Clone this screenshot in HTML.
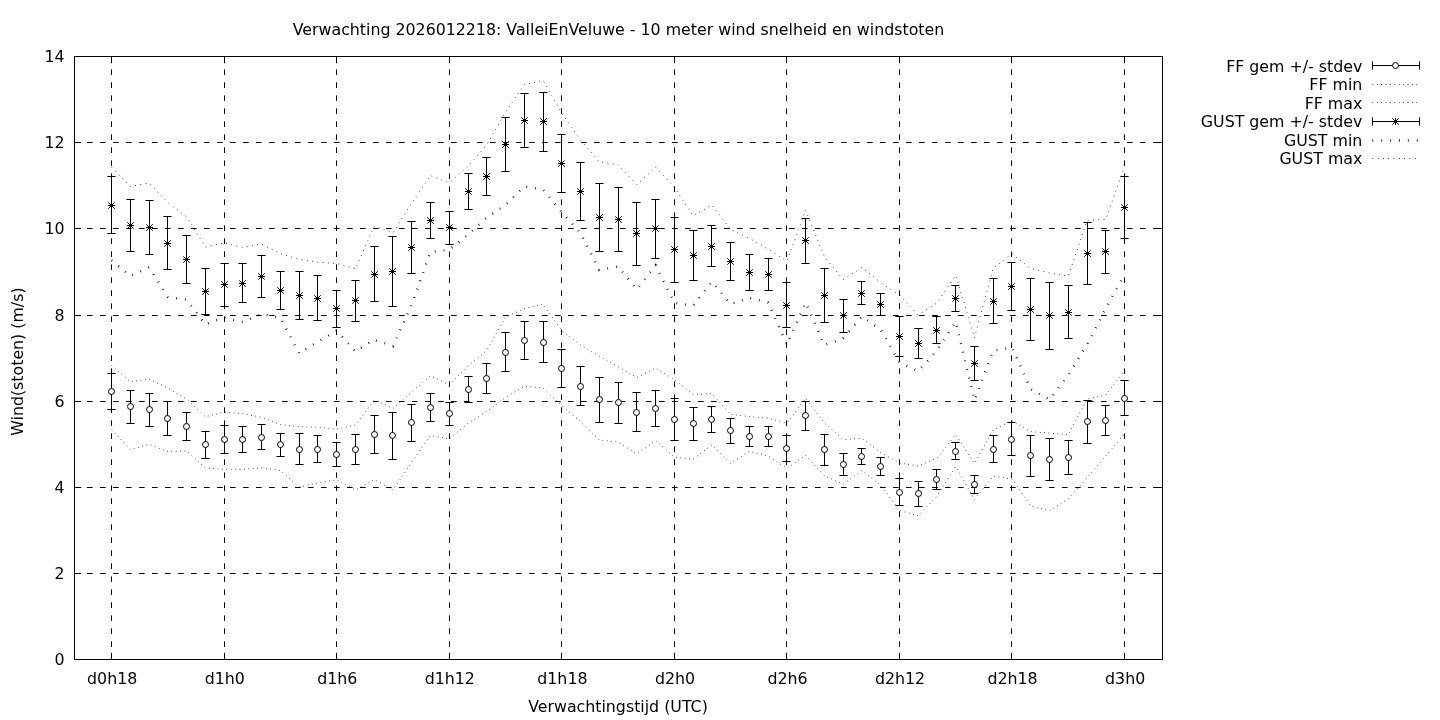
<!DOCTYPE html>
<html lang="nl"><head><meta charset="utf-8"><title>Verwachting 2026012218: ValleiEnVeluwe</title>
<style>
html,body{margin:0;padding:0;background:#fff;}
body{width:1440px;height:720px;overflow:hidden;}
svg{display:block;}
text{font-family:"DejaVu Sans","Liberation Sans",sans-serif;font-size:15.8px;fill:#000;}
.grid line{stroke:#000;stroke-width:1;stroke-dasharray:5.65 7.35;}
.tick line{stroke:#000;stroke-width:1;}
.eb line{stroke:#000;stroke-width:1;}
</style></head><body>
<svg width="1440" height="720" viewBox="0 0 1440 720">
<rect x="0" y="0" width="1440" height="720" fill="#fff"/>

<text x="618.5" y="34.5" text-anchor="middle">Verwachting 2026012218: ValleiEnVeluwe - 10 meter wind snelheid en windstoten</text>
<g class="grid">
<line x1="74.0" y1="573.50" x2="1162.5" y2="573.50"/>
<line x1="74.0" y1="487.50" x2="1162.5" y2="487.50"/>
<line x1="74.0" y1="401.50" x2="1162.5" y2="401.50"/>
<line x1="74.0" y1="315.50" x2="1162.5" y2="315.50"/>
<line x1="74.0" y1="228.50" x2="1162.5" y2="228.50"/>
<line x1="74.0" y1="142.50" x2="1162.5" y2="142.50"/>
<line x1="111.50" y1="660.0" x2="111.50" y2="56.5"/>
<line x1="224.50" y1="660.0" x2="224.50" y2="56.5"/>
<line x1="336.50" y1="660.0" x2="336.50" y2="56.5"/>
<line x1="449.50" y1="660.0" x2="449.50" y2="56.5"/>
<line x1="561.50" y1="660.0" x2="561.50" y2="56.5"/>
<line x1="674.50" y1="660.0" x2="674.50" y2="56.5"/>
<line x1="786.50" y1="660.0" x2="786.50" y2="56.5"/>
<line x1="899.50" y1="660.0" x2="899.50" y2="56.5"/>
<line x1="1011.50" y1="660.0" x2="1011.50" y2="56.5"/>
<line x1="1124.50" y1="660.0" x2="1124.50" y2="56.5"/>
</g>
<g class="tick">
<line x1="74.5" y1="659.50" x2="81.25" y2="659.50"/>
<line x1="1162.5" y1="659.50" x2="1155.75" y2="659.50"/>
<line x1="74.5" y1="573.50" x2="81.25" y2="573.50"/>
<line x1="1162.5" y1="573.50" x2="1155.75" y2="573.50"/>
<line x1="74.5" y1="487.50" x2="81.25" y2="487.50"/>
<line x1="1162.5" y1="487.50" x2="1155.75" y2="487.50"/>
<line x1="74.5" y1="401.50" x2="81.25" y2="401.50"/>
<line x1="1162.5" y1="401.50" x2="1155.75" y2="401.50"/>
<line x1="74.5" y1="315.50" x2="81.25" y2="315.50"/>
<line x1="1162.5" y1="315.50" x2="1155.75" y2="315.50"/>
<line x1="74.5" y1="228.50" x2="81.25" y2="228.50"/>
<line x1="1162.5" y1="228.50" x2="1155.75" y2="228.50"/>
<line x1="74.5" y1="142.50" x2="81.25" y2="142.50"/>
<line x1="1162.5" y1="142.50" x2="1155.75" y2="142.50"/>
<line x1="74.5" y1="56.50" x2="81.25" y2="56.50"/>
<line x1="1162.5" y1="56.50" x2="1155.75" y2="56.50"/>
<line x1="111.50" y1="659.5" x2="111.50" y2="652.75"/>
<line x1="111.50" y1="56.5" x2="111.50" y2="63.25"/>
<line x1="224.50" y1="659.5" x2="224.50" y2="652.75"/>
<line x1="224.50" y1="56.5" x2="224.50" y2="63.25"/>
<line x1="336.50" y1="659.5" x2="336.50" y2="652.75"/>
<line x1="336.50" y1="56.5" x2="336.50" y2="63.25"/>
<line x1="449.50" y1="659.5" x2="449.50" y2="652.75"/>
<line x1="449.50" y1="56.5" x2="449.50" y2="63.25"/>
<line x1="561.50" y1="659.5" x2="561.50" y2="652.75"/>
<line x1="561.50" y1="56.5" x2="561.50" y2="63.25"/>
<line x1="674.50" y1="659.5" x2="674.50" y2="652.75"/>
<line x1="674.50" y1="56.5" x2="674.50" y2="63.25"/>
<line x1="786.50" y1="659.5" x2="786.50" y2="652.75"/>
<line x1="786.50" y1="56.5" x2="786.50" y2="63.25"/>
<line x1="899.50" y1="659.5" x2="899.50" y2="652.75"/>
<line x1="899.50" y1="56.5" x2="899.50" y2="63.25"/>
<line x1="1011.50" y1="659.5" x2="1011.50" y2="652.75"/>
<line x1="1011.50" y1="56.5" x2="1011.50" y2="63.25"/>
<line x1="1124.50" y1="659.5" x2="1124.50" y2="652.75"/>
<line x1="1124.50" y1="56.5" x2="1124.50" y2="63.25"/>
</g>
<text x="64.5" y="665.40" text-anchor="end">0</text>
<text x="64.5" y="579.20" text-anchor="end">2</text>
<text x="64.5" y="493.00" text-anchor="end">4</text>
<text x="64.5" y="406.80" text-anchor="end">6</text>
<text x="64.5" y="320.60" text-anchor="end">8</text>
<text x="64.5" y="234.40" text-anchor="end">10</text>
<text x="64.5" y="148.20" text-anchor="end">12</text>
<text x="64.5" y="62.00" text-anchor="end">14</text>
<text x="112.21" y="683.8" text-anchor="middle">d0h18</text>
<text x="224.75" y="683.8" text-anchor="middle">d1h0</text>
<text x="337.30" y="683.8" text-anchor="middle">d1h6</text>
<text x="449.85" y="683.8" text-anchor="middle">d1h12</text>
<text x="562.40" y="683.8" text-anchor="middle">d1h18</text>
<text x="674.95" y="683.8" text-anchor="middle">d2h0</text>
<text x="787.50" y="683.8" text-anchor="middle">d2h6</text>
<text x="900.04" y="683.8" text-anchor="middle">d2h12</text>
<text x="1012.59" y="683.8" text-anchor="middle">d2h18</text>
<text x="1125.14" y="683.8" text-anchor="middle">d3h0</text>
<text x="618" y="712.2" text-anchor="middle">Verwachtingstijd (UTC)</text>
<text transform="translate(23.2,361.6) rotate(-90)" text-anchor="middle">Wind(stoten) (m/s)</text>
<polyline points="111.61,429.80 130.37,449.60 149.12,444.40 167.88,451.70 186.64,451.00 205.40,467.90 224.16,469.40 242.91,469.40 261.67,467.70 280.43,470.40 299.19,487.10 317.94,482.90 336.70,479.80 355.46,490.00 374.22,479.60 392.98,489.80 411.74,462.30 430.49,435.40 449.25,439.00 468.01,423.30 486.77,411.50 505.52,397.50 524.28,386.20 543.04,387.90 561.80,405.80 580.56,421.50 599.31,440.00 618.07,442.10 636.83,454.00 655.59,440.40 674.35,457.10 693.10,459.20 711.86,445.00 730.62,463.30 749.38,451.25 768.14,456.00 786.89,468.50 805.65,455.40 824.41,475.80 843.17,484.20 861.93,470.60 880.68,485.20 899.44,510.50 918.20,515.80 936.96,496.10 955.72,466.50 974.47,499.50 993.23,476.25 1011.99,479.00 1030.75,506.00 1049.51,510.80 1068.26,498.75 1087.02,477.90 1105.78,456.00 1124.54,433.75" fill="none" stroke="#000" stroke-width="1" stroke-dasharray="0.65 3.75"/>
<polyline points="111.61,365.50 130.37,381.70 149.12,379.20 167.88,388.10 186.64,399.20 205.40,416.70 224.16,412.10 242.91,413.75 261.67,417.30 280.43,424.60 299.19,426.70 317.94,427.10 336.70,429.20 355.46,425.00 374.22,400.00 392.98,408.50 411.74,391.80 430.49,375.80 449.25,384.80 468.01,366.00 486.77,350.40 505.52,317.10 524.28,308.75 543.04,304.20 561.80,330.60 580.56,345.20 599.31,356.25 618.07,366.70 636.83,377.50 655.59,368.10 674.35,379.60 693.10,394.60 711.86,393.60 730.62,414.40 749.38,416.50 768.14,418.30 786.89,423.00 805.65,398.50 824.41,423.00 843.17,439.70 861.93,438.30 880.68,452.50 899.44,462.90 918.20,466.00 936.96,458.10 955.72,434.60 974.47,463.30 993.23,430.00 1011.99,420.60 1030.75,431.70 1049.51,433.10 1068.26,434.60 1087.02,399.00 1105.78,395.00 1124.54,370.30" fill="none" stroke="#000" stroke-width="1" stroke-dasharray="0.65 3.75"/>
<polyline points="111.61,260.30 130.37,276.00 149.12,267.40 167.88,296.90 186.64,299.80 205.40,324.40 224.16,317.70 242.91,322.10 261.67,314.00 280.43,317.70 299.19,353.50 317.94,341.70 336.70,330.80 355.46,351.50 374.22,339.60 392.98,346.25 411.74,304.60 430.49,251.90 449.25,249.80 468.01,234.60 486.77,217.50 505.52,205.00 524.28,186.50 543.04,189.50 561.80,212.30 580.56,233.10 599.31,270.00 618.07,266.50 636.83,289.40 655.59,265.40 674.35,302.90 693.10,305.60 711.86,281.70 730.62,304.20 749.38,297.90 768.14,302.50 786.89,344.60 805.65,302.50 824.41,345.20 843.17,338.30 861.93,316.40 880.68,329.60 899.44,362.30 918.20,371.20 936.96,350.30 955.72,321.70 974.47,400.20 993.23,350.60 1011.99,347.50 1030.75,389.20 1049.51,399.60 1068.26,375.20 1087.02,344.60 1105.78,308.50 1124.54,274.20" fill="none" stroke="#000" stroke-width="2.4" stroke-dasharray="0.75 8.1"/>
<polyline points="111.61,167.30 130.37,186.50 149.12,182.90 167.88,202.70 186.64,216.70 205.40,247.10 224.16,242.90 242.91,247.50 261.67,244.00 280.43,253.75 299.19,259.40 317.94,262.10 336.70,263.50 355.46,268.75 374.22,226.25 392.98,232.90 411.74,203.00 430.49,175.60 449.25,182.90 468.01,166.25 486.77,145.00 505.52,112.10 524.28,84.60 543.04,80.40 561.80,113.10 580.56,140.20 599.31,161.70 618.07,164.80 636.83,184.60 655.59,167.30 674.35,187.10 693.10,216.00 711.86,205.00 730.62,229.60 749.38,238.30 768.14,249.00 786.89,261.25 805.65,210.40 824.41,256.70 843.17,279.60 861.93,267.50 880.68,282.70 899.44,295.00 918.20,315.00 936.96,303.00 955.72,275.30 974.47,337.70 993.23,268.30 1011.99,253.75 1030.75,268.50 1049.51,273.00 1068.26,276.20 1087.02,220.40 1105.78,219.40 1124.54,166.25" fill="none" stroke="#000" stroke-width="1" stroke-dasharray="0.7 4.6"/>
<g class="eb">
<line x1="111.50" y1="373.50" x2="111.50" y2="409.50"/>
<line x1="107.40" y1="373.50" x2="115.60" y2="373.50"/>
<line x1="107.40" y1="409.50" x2="115.60" y2="409.50"/>
<circle cx="111.50" cy="391.50" r="3" fill="#fff" stroke="#000" stroke-width="1"/>
<line x1="130.50" y1="390.50" x2="130.50" y2="423.50"/>
<line x1="126.40" y1="390.50" x2="134.60" y2="390.50"/>
<line x1="126.40" y1="423.50" x2="134.60" y2="423.50"/>
<circle cx="130.50" cy="406.50" r="3" fill="#fff" stroke="#000" stroke-width="1"/>
<line x1="149.50" y1="393.50" x2="149.50" y2="426.50"/>
<line x1="145.40" y1="393.50" x2="153.60" y2="393.50"/>
<line x1="145.40" y1="426.50" x2="153.60" y2="426.50"/>
<circle cx="149.50" cy="409.50" r="3" fill="#fff" stroke="#000" stroke-width="1"/>
<line x1="167.50" y1="401.50" x2="167.50" y2="435.50"/>
<line x1="163.40" y1="401.50" x2="171.60" y2="401.50"/>
<line x1="163.40" y1="435.50" x2="171.60" y2="435.50"/>
<circle cx="167.50" cy="418.50" r="3" fill="#fff" stroke="#000" stroke-width="1"/>
<line x1="186.50" y1="412.50" x2="186.50" y2="440.50"/>
<line x1="182.40" y1="412.50" x2="190.60" y2="412.50"/>
<line x1="182.40" y1="440.50" x2="190.60" y2="440.50"/>
<circle cx="186.50" cy="426.50" r="3" fill="#fff" stroke="#000" stroke-width="1"/>
<line x1="205.50" y1="431.50" x2="205.50" y2="458.50"/>
<line x1="201.40" y1="431.50" x2="209.60" y2="431.50"/>
<line x1="201.40" y1="458.50" x2="209.60" y2="458.50"/>
<circle cx="205.50" cy="444.50" r="3" fill="#fff" stroke="#000" stroke-width="1"/>
<line x1="224.50" y1="425.50" x2="224.50" y2="453.50"/>
<line x1="220.40" y1="425.50" x2="228.60" y2="425.50"/>
<line x1="220.40" y1="453.50" x2="228.60" y2="453.50"/>
<circle cx="224.50" cy="439.50" r="3" fill="#fff" stroke="#000" stroke-width="1"/>
<line x1="242.50" y1="426.50" x2="242.50" y2="452.50"/>
<line x1="238.40" y1="426.50" x2="246.60" y2="426.50"/>
<line x1="238.40" y1="452.50" x2="246.60" y2="452.50"/>
<circle cx="242.50" cy="439.50" r="3" fill="#fff" stroke="#000" stroke-width="1"/>
<line x1="261.50" y1="424.50" x2="261.50" y2="449.50"/>
<line x1="257.40" y1="424.50" x2="265.60" y2="424.50"/>
<line x1="257.40" y1="449.50" x2="265.60" y2="449.50"/>
<circle cx="261.50" cy="437.50" r="3" fill="#fff" stroke="#000" stroke-width="1"/>
<line x1="280.50" y1="433.50" x2="280.50" y2="456.50"/>
<line x1="276.40" y1="433.50" x2="284.60" y2="433.50"/>
<line x1="276.40" y1="456.50" x2="284.60" y2="456.50"/>
<circle cx="280.50" cy="444.50" r="3" fill="#fff" stroke="#000" stroke-width="1"/>
<line x1="299.50" y1="433.50" x2="299.50" y2="464.50"/>
<line x1="295.40" y1="433.50" x2="303.60" y2="433.50"/>
<line x1="295.40" y1="464.50" x2="303.60" y2="464.50"/>
<circle cx="299.50" cy="449.50" r="3" fill="#fff" stroke="#000" stroke-width="1"/>
<line x1="317.50" y1="435.50" x2="317.50" y2="462.50"/>
<line x1="313.40" y1="435.50" x2="321.60" y2="435.50"/>
<line x1="313.40" y1="462.50" x2="321.60" y2="462.50"/>
<circle cx="317.50" cy="449.50" r="3" fill="#fff" stroke="#000" stroke-width="1"/>
<line x1="336.50" y1="442.50" x2="336.50" y2="466.50"/>
<line x1="332.40" y1="442.50" x2="340.60" y2="442.50"/>
<line x1="332.40" y1="466.50" x2="340.60" y2="466.50"/>
<circle cx="336.50" cy="454.50" r="3" fill="#fff" stroke="#000" stroke-width="1"/>
<line x1="355.50" y1="434.50" x2="355.50" y2="464.50"/>
<line x1="351.40" y1="434.50" x2="359.60" y2="434.50"/>
<line x1="351.40" y1="464.50" x2="359.60" y2="464.50"/>
<circle cx="355.50" cy="449.50" r="3" fill="#fff" stroke="#000" stroke-width="1"/>
<line x1="374.50" y1="415.50" x2="374.50" y2="453.50"/>
<line x1="370.40" y1="415.50" x2="378.60" y2="415.50"/>
<line x1="370.40" y1="453.50" x2="378.60" y2="453.50"/>
<circle cx="374.50" cy="434.50" r="3" fill="#fff" stroke="#000" stroke-width="1"/>
<line x1="392.50" y1="412.50" x2="392.50" y2="459.50"/>
<line x1="388.40" y1="412.50" x2="396.60" y2="412.50"/>
<line x1="388.40" y1="459.50" x2="396.60" y2="459.50"/>
<circle cx="392.50" cy="435.50" r="3" fill="#fff" stroke="#000" stroke-width="1"/>
<line x1="411.50" y1="404.50" x2="411.50" y2="441.50"/>
<line x1="407.40" y1="404.50" x2="415.60" y2="404.50"/>
<line x1="407.40" y1="441.50" x2="415.60" y2="441.50"/>
<circle cx="411.50" cy="422.50" r="3" fill="#fff" stroke="#000" stroke-width="1"/>
<line x1="430.50" y1="393.50" x2="430.50" y2="421.50"/>
<line x1="426.40" y1="393.50" x2="434.60" y2="393.50"/>
<line x1="426.40" y1="421.50" x2="434.60" y2="421.50"/>
<circle cx="430.50" cy="407.50" r="3" fill="#fff" stroke="#000" stroke-width="1"/>
<line x1="449.50" y1="402.50" x2="449.50" y2="425.50"/>
<line x1="445.40" y1="402.50" x2="453.60" y2="402.50"/>
<line x1="445.40" y1="425.50" x2="453.60" y2="425.50"/>
<circle cx="449.50" cy="413.50" r="3" fill="#fff" stroke="#000" stroke-width="1"/>
<line x1="468.50" y1="376.50" x2="468.50" y2="402.50"/>
<line x1="464.40" y1="376.50" x2="472.60" y2="376.50"/>
<line x1="464.40" y1="402.50" x2="472.60" y2="402.50"/>
<circle cx="468.50" cy="389.50" r="3" fill="#fff" stroke="#000" stroke-width="1"/>
<line x1="486.50" y1="363.50" x2="486.50" y2="393.50"/>
<line x1="482.40" y1="363.50" x2="490.60" y2="363.50"/>
<line x1="482.40" y1="393.50" x2="490.60" y2="393.50"/>
<circle cx="486.50" cy="378.50" r="3" fill="#fff" stroke="#000" stroke-width="1"/>
<line x1="505.50" y1="332.50" x2="505.50" y2="371.50"/>
<line x1="501.40" y1="332.50" x2="509.60" y2="332.50"/>
<line x1="501.40" y1="371.50" x2="509.60" y2="371.50"/>
<circle cx="505.50" cy="352.50" r="3" fill="#fff" stroke="#000" stroke-width="1"/>
<line x1="524.50" y1="321.50" x2="524.50" y2="359.50"/>
<line x1="520.40" y1="321.50" x2="528.60" y2="321.50"/>
<line x1="520.40" y1="359.50" x2="528.60" y2="359.50"/>
<circle cx="524.50" cy="340.50" r="3" fill="#fff" stroke="#000" stroke-width="1"/>
<line x1="543.50" y1="321.50" x2="543.50" y2="362.50"/>
<line x1="539.40" y1="321.50" x2="547.60" y2="321.50"/>
<line x1="539.40" y1="362.50" x2="547.60" y2="362.50"/>
<circle cx="543.50" cy="342.50" r="3" fill="#fff" stroke="#000" stroke-width="1"/>
<line x1="561.50" y1="349.50" x2="561.50" y2="387.50"/>
<line x1="557.40" y1="349.50" x2="565.60" y2="349.50"/>
<line x1="557.40" y1="387.50" x2="565.60" y2="387.50"/>
<circle cx="561.50" cy="368.50" r="3" fill="#fff" stroke="#000" stroke-width="1"/>
<line x1="580.50" y1="366.50" x2="580.50" y2="405.50"/>
<line x1="576.40" y1="366.50" x2="584.60" y2="366.50"/>
<line x1="576.40" y1="405.50" x2="584.60" y2="405.50"/>
<circle cx="580.50" cy="386.50" r="3" fill="#fff" stroke="#000" stroke-width="1"/>
<line x1="599.50" y1="377.50" x2="599.50" y2="422.50"/>
<line x1="595.40" y1="377.50" x2="603.60" y2="377.50"/>
<line x1="595.40" y1="422.50" x2="603.60" y2="422.50"/>
<circle cx="599.50" cy="399.50" r="3" fill="#fff" stroke="#000" stroke-width="1"/>
<line x1="618.50" y1="382.50" x2="618.50" y2="423.50"/>
<line x1="614.40" y1="382.50" x2="622.60" y2="382.50"/>
<line x1="614.40" y1="423.50" x2="622.60" y2="423.50"/>
<circle cx="618.50" cy="402.50" r="3" fill="#fff" stroke="#000" stroke-width="1"/>
<line x1="636.50" y1="392.50" x2="636.50" y2="431.50"/>
<line x1="632.40" y1="392.50" x2="640.60" y2="392.50"/>
<line x1="632.40" y1="431.50" x2="640.60" y2="431.50"/>
<circle cx="636.50" cy="412.50" r="3" fill="#fff" stroke="#000" stroke-width="1"/>
<line x1="655.50" y1="390.50" x2="655.50" y2="426.50"/>
<line x1="651.40" y1="390.50" x2="659.60" y2="390.50"/>
<line x1="651.40" y1="426.50" x2="659.60" y2="426.50"/>
<circle cx="655.50" cy="408.50" r="3" fill="#fff" stroke="#000" stroke-width="1"/>
<line x1="674.50" y1="398.50" x2="674.50" y2="440.50"/>
<line x1="670.40" y1="398.50" x2="678.60" y2="398.50"/>
<line x1="670.40" y1="440.50" x2="678.60" y2="440.50"/>
<circle cx="674.50" cy="419.50" r="3" fill="#fff" stroke="#000" stroke-width="1"/>
<line x1="693.50" y1="407.50" x2="693.50" y2="440.50"/>
<line x1="689.40" y1="407.50" x2="697.60" y2="407.50"/>
<line x1="689.40" y1="440.50" x2="697.60" y2="440.50"/>
<circle cx="693.50" cy="423.50" r="3" fill="#fff" stroke="#000" stroke-width="1"/>
<line x1="711.50" y1="406.50" x2="711.50" y2="432.50"/>
<line x1="707.40" y1="406.50" x2="715.60" y2="406.50"/>
<line x1="707.40" y1="432.50" x2="715.60" y2="432.50"/>
<circle cx="711.50" cy="419.50" r="3" fill="#fff" stroke="#000" stroke-width="1"/>
<line x1="730.50" y1="418.50" x2="730.50" y2="443.50"/>
<line x1="726.40" y1="418.50" x2="734.60" y2="418.50"/>
<line x1="726.40" y1="443.50" x2="734.60" y2="443.50"/>
<circle cx="730.50" cy="430.50" r="3" fill="#fff" stroke="#000" stroke-width="1"/>
<line x1="749.50" y1="426.50" x2="749.50" y2="446.50"/>
<line x1="745.40" y1="426.50" x2="753.60" y2="426.50"/>
<line x1="745.40" y1="446.50" x2="753.60" y2="446.50"/>
<circle cx="749.50" cy="436.50" r="3" fill="#fff" stroke="#000" stroke-width="1"/>
<line x1="768.50" y1="426.50" x2="768.50" y2="446.50"/>
<line x1="764.40" y1="426.50" x2="772.60" y2="426.50"/>
<line x1="764.40" y1="446.50" x2="772.60" y2="446.50"/>
<circle cx="768.50" cy="436.50" r="3" fill="#fff" stroke="#000" stroke-width="1"/>
<line x1="786.50" y1="435.50" x2="786.50" y2="461.50"/>
<line x1="782.40" y1="435.50" x2="790.60" y2="435.50"/>
<line x1="782.40" y1="461.50" x2="790.60" y2="461.50"/>
<circle cx="786.50" cy="448.50" r="3" fill="#fff" stroke="#000" stroke-width="1"/>
<line x1="805.50" y1="401.50" x2="805.50" y2="430.50"/>
<line x1="801.40" y1="401.50" x2="809.60" y2="401.50"/>
<line x1="801.40" y1="430.50" x2="809.60" y2="430.50"/>
<circle cx="805.50" cy="415.50" r="3" fill="#fff" stroke="#000" stroke-width="1"/>
<line x1="824.50" y1="434.50" x2="824.50" y2="465.50"/>
<line x1="820.40" y1="434.50" x2="828.60" y2="434.50"/>
<line x1="820.40" y1="465.50" x2="828.60" y2="465.50"/>
<circle cx="824.50" cy="449.50" r="3" fill="#fff" stroke="#000" stroke-width="1"/>
<line x1="843.50" y1="453.50" x2="843.50" y2="475.50"/>
<line x1="839.40" y1="453.50" x2="847.60" y2="453.50"/>
<line x1="839.40" y1="475.50" x2="847.60" y2="475.50"/>
<circle cx="843.50" cy="464.50" r="3" fill="#fff" stroke="#000" stroke-width="1"/>
<line x1="861.50" y1="448.50" x2="861.50" y2="464.50"/>
<line x1="857.40" y1="448.50" x2="865.60" y2="448.50"/>
<line x1="857.40" y1="464.50" x2="865.60" y2="464.50"/>
<circle cx="861.50" cy="456.50" r="3" fill="#fff" stroke="#000" stroke-width="1"/>
<line x1="880.50" y1="457.50" x2="880.50" y2="475.50"/>
<line x1="876.40" y1="457.50" x2="884.60" y2="457.50"/>
<line x1="876.40" y1="475.50" x2="884.60" y2="475.50"/>
<circle cx="880.50" cy="466.50" r="3" fill="#fff" stroke="#000" stroke-width="1"/>
<line x1="899.50" y1="478.50" x2="899.50" y2="505.50"/>
<line x1="895.40" y1="478.50" x2="903.60" y2="478.50"/>
<line x1="895.40" y1="505.50" x2="903.60" y2="505.50"/>
<circle cx="899.50" cy="492.50" r="3" fill="#fff" stroke="#000" stroke-width="1"/>
<line x1="918.50" y1="481.50" x2="918.50" y2="506.50"/>
<line x1="914.40" y1="481.50" x2="922.60" y2="481.50"/>
<line x1="914.40" y1="506.50" x2="922.60" y2="506.50"/>
<circle cx="918.50" cy="493.50" r="3" fill="#fff" stroke="#000" stroke-width="1"/>
<line x1="936.50" y1="469.50" x2="936.50" y2="489.50"/>
<line x1="932.40" y1="469.50" x2="940.60" y2="469.50"/>
<line x1="932.40" y1="489.50" x2="940.60" y2="489.50"/>
<circle cx="936.50" cy="479.50" r="3" fill="#fff" stroke="#000" stroke-width="1"/>
<line x1="955.50" y1="442.50" x2="955.50" y2="459.50"/>
<line x1="951.40" y1="442.50" x2="959.60" y2="442.50"/>
<line x1="951.40" y1="459.50" x2="959.60" y2="459.50"/>
<circle cx="955.50" cy="451.50" r="3" fill="#fff" stroke="#000" stroke-width="1"/>
<line x1="974.50" y1="475.50" x2="974.50" y2="493.50"/>
<line x1="970.40" y1="475.50" x2="978.60" y2="475.50"/>
<line x1="970.40" y1="493.50" x2="978.60" y2="493.50"/>
<circle cx="974.50" cy="484.50" r="3" fill="#fff" stroke="#000" stroke-width="1"/>
<line x1="993.50" y1="435.50" x2="993.50" y2="462.50"/>
<line x1="989.40" y1="435.50" x2="997.60" y2="435.50"/>
<line x1="989.40" y1="462.50" x2="997.60" y2="462.50"/>
<circle cx="993.50" cy="449.50" r="3" fill="#fff" stroke="#000" stroke-width="1"/>
<line x1="1011.50" y1="422.50" x2="1011.50" y2="455.50"/>
<line x1="1007.40" y1="422.50" x2="1015.60" y2="422.50"/>
<line x1="1007.40" y1="455.50" x2="1015.60" y2="455.50"/>
<circle cx="1011.50" cy="439.50" r="3" fill="#fff" stroke="#000" stroke-width="1"/>
<line x1="1030.50" y1="435.50" x2="1030.50" y2="476.50"/>
<line x1="1026.40" y1="435.50" x2="1034.60" y2="435.50"/>
<line x1="1026.40" y1="476.50" x2="1034.60" y2="476.50"/>
<circle cx="1030.50" cy="455.50" r="3" fill="#fff" stroke="#000" stroke-width="1"/>
<line x1="1049.50" y1="438.50" x2="1049.50" y2="480.50"/>
<line x1="1045.40" y1="438.50" x2="1053.60" y2="438.50"/>
<line x1="1045.40" y1="480.50" x2="1053.60" y2="480.50"/>
<circle cx="1049.50" cy="459.50" r="3" fill="#fff" stroke="#000" stroke-width="1"/>
<line x1="1068.50" y1="440.50" x2="1068.50" y2="474.50"/>
<line x1="1064.40" y1="440.50" x2="1072.60" y2="440.50"/>
<line x1="1064.40" y1="474.50" x2="1072.60" y2="474.50"/>
<circle cx="1068.50" cy="457.50" r="3" fill="#fff" stroke="#000" stroke-width="1"/>
<line x1="1087.50" y1="400.50" x2="1087.50" y2="443.50"/>
<line x1="1083.40" y1="400.50" x2="1091.60" y2="400.50"/>
<line x1="1083.40" y1="443.50" x2="1091.60" y2="443.50"/>
<circle cx="1087.50" cy="421.50" r="3" fill="#fff" stroke="#000" stroke-width="1"/>
<line x1="1105.50" y1="405.50" x2="1105.50" y2="435.50"/>
<line x1="1101.40" y1="405.50" x2="1109.60" y2="405.50"/>
<line x1="1101.40" y1="435.50" x2="1109.60" y2="435.50"/>
<circle cx="1105.50" cy="420.50" r="3" fill="#fff" stroke="#000" stroke-width="1"/>
<line x1="1124.50" y1="380.50" x2="1124.50" y2="415.50"/>
<line x1="1120.40" y1="380.50" x2="1128.60" y2="380.50"/>
<line x1="1120.40" y1="415.50" x2="1128.60" y2="415.50"/>
<circle cx="1124.50" cy="398.50" r="3" fill="#fff" stroke="#000" stroke-width="1"/>
</g>
<g class="eb">
<line x1="111.50" y1="176.50" x2="111.50" y2="233.50"/>
<line x1="107.40" y1="176.50" x2="115.60" y2="176.50"/>
<line x1="107.40" y1="233.50" x2="115.60" y2="233.50"/>
<path d="M108.00,205.50H115.00M111.50,202.00V209.00M108.30,202.30L114.70,208.70M108.30,208.70L114.70,202.30" stroke="#000" stroke-width="1" fill="none"/>
<line x1="130.50" y1="199.50" x2="130.50" y2="251.50"/>
<line x1="126.40" y1="199.50" x2="134.60" y2="199.50"/>
<line x1="126.40" y1="251.50" x2="134.60" y2="251.50"/>
<path d="M127.00,225.50H134.00M130.50,222.00V229.00M127.30,222.30L133.70,228.70M127.30,228.70L133.70,222.30" stroke="#000" stroke-width="1" fill="none"/>
<line x1="149.50" y1="200.50" x2="149.50" y2="254.50"/>
<line x1="145.40" y1="200.50" x2="153.60" y2="200.50"/>
<line x1="145.40" y1="254.50" x2="153.60" y2="254.50"/>
<path d="M146.00,227.50H153.00M149.50,224.00V231.00M146.30,224.30L152.70,230.70M146.30,230.70L152.70,224.30" stroke="#000" stroke-width="1" fill="none"/>
<line x1="167.50" y1="216.50" x2="167.50" y2="269.50"/>
<line x1="163.40" y1="216.50" x2="171.60" y2="216.50"/>
<line x1="163.40" y1="269.50" x2="171.60" y2="269.50"/>
<path d="M164.00,243.50H171.00M167.50,240.00V247.00M164.30,240.30L170.70,246.70M164.30,246.70L170.70,240.30" stroke="#000" stroke-width="1" fill="none"/>
<line x1="186.50" y1="235.50" x2="186.50" y2="283.50"/>
<line x1="182.40" y1="235.50" x2="190.60" y2="235.50"/>
<line x1="182.40" y1="283.50" x2="190.60" y2="283.50"/>
<path d="M183.00,259.50H190.00M186.50,256.00V263.00M183.30,256.30L189.70,262.70M183.30,262.70L189.70,256.30" stroke="#000" stroke-width="1" fill="none"/>
<line x1="205.50" y1="268.50" x2="205.50" y2="314.50"/>
<line x1="201.40" y1="268.50" x2="209.60" y2="268.50"/>
<line x1="201.40" y1="314.50" x2="209.60" y2="314.50"/>
<path d="M202.00,291.50H209.00M205.50,288.00V295.00M202.30,288.30L208.70,294.70M202.30,294.70L208.70,288.30" stroke="#000" stroke-width="1" fill="none"/>
<line x1="224.50" y1="263.50" x2="224.50" y2="306.50"/>
<line x1="220.40" y1="263.50" x2="228.60" y2="263.50"/>
<line x1="220.40" y1="306.50" x2="228.60" y2="306.50"/>
<path d="M221.00,284.50H228.00M224.50,281.00V288.00M221.30,281.30L227.70,287.70M221.30,287.70L227.70,281.30" stroke="#000" stroke-width="1" fill="none"/>
<line x1="242.50" y1="263.50" x2="242.50" y2="302.50"/>
<line x1="238.40" y1="263.50" x2="246.60" y2="263.50"/>
<line x1="238.40" y1="302.50" x2="246.60" y2="302.50"/>
<path d="M239.00,283.50H246.00M242.50,280.00V287.00M239.30,280.30L245.70,286.70M239.30,286.70L245.70,280.30" stroke="#000" stroke-width="1" fill="none"/>
<line x1="261.50" y1="255.50" x2="261.50" y2="297.50"/>
<line x1="257.40" y1="255.50" x2="265.60" y2="255.50"/>
<line x1="257.40" y1="297.50" x2="265.60" y2="297.50"/>
<path d="M258.00,276.50H265.00M261.50,273.00V280.00M258.30,273.30L264.70,279.70M258.30,279.70L264.70,273.30" stroke="#000" stroke-width="1" fill="none"/>
<line x1="280.50" y1="271.50" x2="280.50" y2="309.50"/>
<line x1="276.40" y1="271.50" x2="284.60" y2="271.50"/>
<line x1="276.40" y1="309.50" x2="284.60" y2="309.50"/>
<path d="M277.00,290.50H284.00M280.50,287.00V294.00M277.30,287.30L283.70,293.70M277.30,293.70L283.70,287.30" stroke="#000" stroke-width="1" fill="none"/>
<line x1="299.50" y1="271.50" x2="299.50" y2="319.50"/>
<line x1="295.40" y1="271.50" x2="303.60" y2="271.50"/>
<line x1="295.40" y1="319.50" x2="303.60" y2="319.50"/>
<path d="M296.00,295.50H303.00M299.50,292.00V299.00M296.30,292.30L302.70,298.70M296.30,298.70L302.70,292.30" stroke="#000" stroke-width="1" fill="none"/>
<line x1="317.50" y1="275.50" x2="317.50" y2="320.50"/>
<line x1="313.40" y1="275.50" x2="321.60" y2="275.50"/>
<line x1="313.40" y1="320.50" x2="321.60" y2="320.50"/>
<path d="M314.00,298.50H321.00M317.50,295.00V302.00M314.30,295.30L320.70,301.70M314.30,301.70L320.70,295.30" stroke="#000" stroke-width="1" fill="none"/>
<line x1="336.50" y1="290.50" x2="336.50" y2="327.50"/>
<line x1="332.40" y1="290.50" x2="340.60" y2="290.50"/>
<line x1="332.40" y1="327.50" x2="340.60" y2="327.50"/>
<path d="M333.00,308.50H340.00M336.50,305.00V312.00M333.30,305.30L339.70,311.70M333.30,311.70L339.70,305.30" stroke="#000" stroke-width="1" fill="none"/>
<line x1="355.50" y1="280.50" x2="355.50" y2="321.50"/>
<line x1="351.40" y1="280.50" x2="359.60" y2="280.50"/>
<line x1="351.40" y1="321.50" x2="359.60" y2="321.50"/>
<path d="M352.00,300.50H359.00M355.50,297.00V304.00M352.30,297.30L358.70,303.70M352.30,303.70L358.70,297.30" stroke="#000" stroke-width="1" fill="none"/>
<line x1="374.50" y1="246.50" x2="374.50" y2="301.50"/>
<line x1="370.40" y1="246.50" x2="378.60" y2="246.50"/>
<line x1="370.40" y1="301.50" x2="378.60" y2="301.50"/>
<path d="M371.00,274.50H378.00M374.50,271.00V278.00M371.30,271.30L377.70,277.70M371.30,277.70L377.70,271.30" stroke="#000" stroke-width="1" fill="none"/>
<line x1="392.50" y1="236.50" x2="392.50" y2="306.50"/>
<line x1="388.40" y1="236.50" x2="396.60" y2="236.50"/>
<line x1="388.40" y1="306.50" x2="396.60" y2="306.50"/>
<path d="M389.00,271.50H396.00M392.50,268.00V275.00M389.30,268.30L395.70,274.70M389.30,274.70L395.70,268.30" stroke="#000" stroke-width="1" fill="none"/>
<line x1="411.50" y1="221.50" x2="411.50" y2="273.50"/>
<line x1="407.40" y1="221.50" x2="415.60" y2="221.50"/>
<line x1="407.40" y1="273.50" x2="415.60" y2="273.50"/>
<path d="M408.00,247.50H415.00M411.50,244.00V251.00M408.30,244.30L414.70,250.70M408.30,250.70L414.70,244.30" stroke="#000" stroke-width="1" fill="none"/>
<line x1="430.50" y1="202.50" x2="430.50" y2="238.50"/>
<line x1="426.40" y1="202.50" x2="434.60" y2="202.50"/>
<line x1="426.40" y1="238.50" x2="434.60" y2="238.50"/>
<path d="M427.00,220.50H434.00M430.50,217.00V224.00M427.30,217.30L433.70,223.70M427.30,223.70L433.70,217.30" stroke="#000" stroke-width="1" fill="none"/>
<line x1="449.50" y1="211.50" x2="449.50" y2="244.50"/>
<line x1="445.40" y1="211.50" x2="453.60" y2="211.50"/>
<line x1="445.40" y1="244.50" x2="453.60" y2="244.50"/>
<path d="M446.00,227.50H453.00M449.50,224.00V231.00M446.30,224.30L452.70,230.70M446.30,230.70L452.70,224.30" stroke="#000" stroke-width="1" fill="none"/>
<line x1="468.50" y1="173.50" x2="468.50" y2="209.50"/>
<line x1="464.40" y1="173.50" x2="472.60" y2="173.50"/>
<line x1="464.40" y1="209.50" x2="472.60" y2="209.50"/>
<path d="M465.00,191.50H472.00M468.50,188.00V195.00M465.30,188.30L471.70,194.70M465.30,194.70L471.70,188.30" stroke="#000" stroke-width="1" fill="none"/>
<line x1="486.50" y1="157.50" x2="486.50" y2="195.50"/>
<line x1="482.40" y1="157.50" x2="490.60" y2="157.50"/>
<line x1="482.40" y1="195.50" x2="490.60" y2="195.50"/>
<path d="M483.00,176.50H490.00M486.50,173.00V180.00M483.30,173.30L489.70,179.70M483.30,179.70L489.70,173.30" stroke="#000" stroke-width="1" fill="none"/>
<line x1="505.50" y1="117.50" x2="505.50" y2="171.50"/>
<line x1="501.40" y1="117.50" x2="509.60" y2="117.50"/>
<line x1="501.40" y1="171.50" x2="509.60" y2="171.50"/>
<path d="M502.00,144.50H509.00M505.50,141.00V148.00M502.30,141.30L508.70,147.70M502.30,147.70L508.70,141.30" stroke="#000" stroke-width="1" fill="none"/>
<line x1="524.50" y1="93.50" x2="524.50" y2="147.50"/>
<line x1="520.40" y1="93.50" x2="528.60" y2="93.50"/>
<line x1="520.40" y1="147.50" x2="528.60" y2="147.50"/>
<path d="M521.00,120.50H528.00M524.50,117.00V124.00M521.30,117.30L527.70,123.70M521.30,123.70L527.70,117.30" stroke="#000" stroke-width="1" fill="none"/>
<line x1="543.50" y1="92.50" x2="543.50" y2="151.50"/>
<line x1="539.40" y1="92.50" x2="547.60" y2="92.50"/>
<line x1="539.40" y1="151.50" x2="547.60" y2="151.50"/>
<path d="M540.00,121.50H547.00M543.50,118.00V125.00M540.30,118.30L546.70,124.70M540.30,124.70L546.70,118.30" stroke="#000" stroke-width="1" fill="none"/>
<line x1="561.50" y1="134.50" x2="561.50" y2="192.50"/>
<line x1="557.40" y1="134.50" x2="565.60" y2="134.50"/>
<line x1="557.40" y1="192.50" x2="565.60" y2="192.50"/>
<path d="M558.00,163.50H565.00M561.50,160.00V167.00M558.30,160.30L564.70,166.70M558.30,166.70L564.70,160.30" stroke="#000" stroke-width="1" fill="none"/>
<line x1="580.50" y1="162.50" x2="580.50" y2="220.50"/>
<line x1="576.40" y1="162.50" x2="584.60" y2="162.50"/>
<line x1="576.40" y1="220.50" x2="584.60" y2="220.50"/>
<path d="M577.00,191.50H584.00M580.50,188.00V195.00M577.30,188.30L583.70,194.70M577.30,194.70L583.70,188.30" stroke="#000" stroke-width="1" fill="none"/>
<line x1="599.50" y1="183.50" x2="599.50" y2="251.50"/>
<line x1="595.40" y1="183.50" x2="603.60" y2="183.50"/>
<line x1="595.40" y1="251.50" x2="603.60" y2="251.50"/>
<path d="M596.00,217.50H603.00M599.50,214.00V221.00M596.30,214.30L602.70,220.70M596.30,220.70L602.70,214.30" stroke="#000" stroke-width="1" fill="none"/>
<line x1="618.50" y1="187.50" x2="618.50" y2="251.50"/>
<line x1="614.40" y1="187.50" x2="622.60" y2="187.50"/>
<line x1="614.40" y1="251.50" x2="622.60" y2="251.50"/>
<path d="M615.00,219.50H622.00M618.50,216.00V223.00M615.30,216.30L621.70,222.70M615.30,222.70L621.70,216.30" stroke="#000" stroke-width="1" fill="none"/>
<line x1="636.50" y1="202.50" x2="636.50" y2="265.50"/>
<line x1="632.40" y1="202.50" x2="640.60" y2="202.50"/>
<line x1="632.40" y1="265.50" x2="640.60" y2="265.50"/>
<path d="M633.00,233.50H640.00M636.50,230.00V237.00M633.30,230.30L639.70,236.70M633.30,236.70L639.70,230.30" stroke="#000" stroke-width="1" fill="none"/>
<line x1="655.50" y1="199.50" x2="655.50" y2="258.50"/>
<line x1="651.40" y1="199.50" x2="659.60" y2="199.50"/>
<line x1="651.40" y1="258.50" x2="659.60" y2="258.50"/>
<path d="M652.00,228.50H659.00M655.50,225.00V232.00M652.30,225.30L658.70,231.70M652.30,231.70L658.70,225.30" stroke="#000" stroke-width="1" fill="none"/>
<line x1="674.50" y1="217.50" x2="674.50" y2="282.50"/>
<line x1="670.40" y1="217.50" x2="678.60" y2="217.50"/>
<line x1="670.40" y1="282.50" x2="678.60" y2="282.50"/>
<path d="M671.00,249.50H678.00M674.50,246.00V253.00M671.30,246.30L677.70,252.70M671.30,252.70L677.70,246.30" stroke="#000" stroke-width="1" fill="none"/>
<line x1="693.50" y1="230.50" x2="693.50" y2="280.50"/>
<line x1="689.40" y1="230.50" x2="697.60" y2="230.50"/>
<line x1="689.40" y1="280.50" x2="697.60" y2="280.50"/>
<path d="M690.00,255.50H697.00M693.50,252.00V259.00M690.30,252.30L696.70,258.70M690.30,258.70L696.70,252.30" stroke="#000" stroke-width="1" fill="none"/>
<line x1="711.50" y1="225.50" x2="711.50" y2="266.50"/>
<line x1="707.40" y1="225.50" x2="715.60" y2="225.50"/>
<line x1="707.40" y1="266.50" x2="715.60" y2="266.50"/>
<path d="M708.00,246.50H715.00M711.50,243.00V250.00M708.30,243.30L714.70,249.70M708.30,249.70L714.70,243.30" stroke="#000" stroke-width="1" fill="none"/>
<line x1="730.50" y1="242.50" x2="730.50" y2="280.50"/>
<line x1="726.40" y1="242.50" x2="734.60" y2="242.50"/>
<line x1="726.40" y1="280.50" x2="734.60" y2="280.50"/>
<path d="M727.00,261.50H734.00M730.50,258.00V265.00M727.30,258.30L733.70,264.70M727.30,264.70L733.70,258.30" stroke="#000" stroke-width="1" fill="none"/>
<line x1="749.50" y1="254.50" x2="749.50" y2="290.50"/>
<line x1="745.40" y1="254.50" x2="753.60" y2="254.50"/>
<line x1="745.40" y1="290.50" x2="753.60" y2="290.50"/>
<path d="M746.00,272.50H753.00M749.50,269.00V276.00M746.30,269.30L752.70,275.70M746.30,275.70L752.70,269.30" stroke="#000" stroke-width="1" fill="none"/>
<line x1="768.50" y1="258.50" x2="768.50" y2="290.50"/>
<line x1="764.40" y1="258.50" x2="772.60" y2="258.50"/>
<line x1="764.40" y1="290.50" x2="772.60" y2="290.50"/>
<path d="M765.00,274.50H772.00M768.50,271.00V278.00M765.30,271.30L771.70,277.70M765.30,277.70L771.70,271.30" stroke="#000" stroke-width="1" fill="none"/>
<line x1="786.50" y1="282.50" x2="786.50" y2="327.50"/>
<line x1="782.40" y1="282.50" x2="790.60" y2="282.50"/>
<line x1="782.40" y1="327.50" x2="790.60" y2="327.50"/>
<path d="M783.00,305.50H790.00M786.50,302.00V309.00M783.30,302.30L789.70,308.70M783.30,308.70L789.70,302.30" stroke="#000" stroke-width="1" fill="none"/>
<line x1="805.50" y1="218.50" x2="805.50" y2="263.50"/>
<line x1="801.40" y1="218.50" x2="809.60" y2="218.50"/>
<line x1="801.40" y1="263.50" x2="809.60" y2="263.50"/>
<path d="M802.00,240.50H809.00M805.50,237.00V244.00M802.30,237.30L808.70,243.70M802.30,243.70L808.70,237.30" stroke="#000" stroke-width="1" fill="none"/>
<line x1="824.50" y1="268.50" x2="824.50" y2="322.50"/>
<line x1="820.40" y1="268.50" x2="828.60" y2="268.50"/>
<line x1="820.40" y1="322.50" x2="828.60" y2="322.50"/>
<path d="M821.00,295.50H828.00M824.50,292.00V299.00M821.30,292.30L827.70,298.70M821.30,298.70L827.70,292.30" stroke="#000" stroke-width="1" fill="none"/>
<line x1="843.50" y1="299.50" x2="843.50" y2="332.50"/>
<line x1="839.40" y1="299.50" x2="847.60" y2="299.50"/>
<line x1="839.40" y1="332.50" x2="847.60" y2="332.50"/>
<path d="M840.00,315.50H847.00M843.50,312.00V319.00M840.30,312.30L846.70,318.70M840.30,318.70L846.70,312.30" stroke="#000" stroke-width="1" fill="none"/>
<line x1="861.50" y1="281.50" x2="861.50" y2="304.50"/>
<line x1="857.40" y1="281.50" x2="865.60" y2="281.50"/>
<line x1="857.40" y1="304.50" x2="865.60" y2="304.50"/>
<path d="M858.00,293.50H865.00M861.50,290.00V297.00M858.30,290.30L864.70,296.70M858.30,296.70L864.70,290.30" stroke="#000" stroke-width="1" fill="none"/>
<line x1="880.50" y1="293.50" x2="880.50" y2="315.50"/>
<line x1="876.40" y1="293.50" x2="884.60" y2="293.50"/>
<line x1="876.40" y1="315.50" x2="884.60" y2="315.50"/>
<path d="M877.00,304.50H884.00M880.50,301.00V308.00M877.30,301.30L883.70,307.70M877.30,307.70L883.70,301.30" stroke="#000" stroke-width="1" fill="none"/>
<line x1="899.50" y1="316.50" x2="899.50" y2="356.50"/>
<line x1="895.40" y1="316.50" x2="903.60" y2="316.50"/>
<line x1="895.40" y1="356.50" x2="903.60" y2="356.50"/>
<path d="M896.00,336.50H903.00M899.50,333.00V340.00M896.30,333.30L902.70,339.70M896.30,339.70L902.70,333.30" stroke="#000" stroke-width="1" fill="none"/>
<line x1="918.50" y1="328.50" x2="918.50" y2="358.50"/>
<line x1="914.40" y1="328.50" x2="922.60" y2="328.50"/>
<line x1="914.40" y1="358.50" x2="922.60" y2="358.50"/>
<path d="M915.00,343.50H922.00M918.50,340.00V347.00M915.30,340.30L921.70,346.70M915.30,346.70L921.70,340.30" stroke="#000" stroke-width="1" fill="none"/>
<line x1="936.50" y1="316.50" x2="936.50" y2="343.50"/>
<line x1="932.40" y1="316.50" x2="940.60" y2="316.50"/>
<line x1="932.40" y1="343.50" x2="940.60" y2="343.50"/>
<path d="M933.00,330.50H940.00M936.50,327.00V334.00M933.30,327.30L939.70,333.70M933.30,333.70L939.70,327.30" stroke="#000" stroke-width="1" fill="none"/>
<line x1="955.50" y1="285.50" x2="955.50" y2="311.50"/>
<line x1="951.40" y1="285.50" x2="959.60" y2="285.50"/>
<line x1="951.40" y1="311.50" x2="959.60" y2="311.50"/>
<path d="M952.00,298.50H959.00M955.50,295.00V302.00M952.30,295.30L958.70,301.70M952.30,301.70L958.70,295.30" stroke="#000" stroke-width="1" fill="none"/>
<line x1="974.50" y1="346.50" x2="974.50" y2="380.50"/>
<line x1="970.40" y1="346.50" x2="978.60" y2="346.50"/>
<line x1="970.40" y1="380.50" x2="978.60" y2="380.50"/>
<path d="M971.00,363.50H978.00M974.50,360.00V367.00M971.30,360.30L977.70,366.70M971.30,366.70L977.70,360.30" stroke="#000" stroke-width="1" fill="none"/>
<line x1="993.50" y1="278.50" x2="993.50" y2="323.50"/>
<line x1="989.40" y1="278.50" x2="997.60" y2="278.50"/>
<line x1="989.40" y1="323.50" x2="997.60" y2="323.50"/>
<path d="M990.00,301.50H997.00M993.50,298.00V305.00M990.30,298.30L996.70,304.70M990.30,304.70L996.70,298.30" stroke="#000" stroke-width="1" fill="none"/>
<line x1="1011.50" y1="262.50" x2="1011.50" y2="310.50"/>
<line x1="1007.40" y1="262.50" x2="1015.60" y2="262.50"/>
<line x1="1007.40" y1="310.50" x2="1015.60" y2="310.50"/>
<path d="M1008.00,286.50H1015.00M1011.50,283.00V290.00M1008.30,283.30L1014.70,289.70M1008.30,289.70L1014.70,283.30" stroke="#000" stroke-width="1" fill="none"/>
<line x1="1030.50" y1="278.50" x2="1030.50" y2="340.50"/>
<line x1="1026.40" y1="278.50" x2="1034.60" y2="278.50"/>
<line x1="1026.40" y1="340.50" x2="1034.60" y2="340.50"/>
<path d="M1027.00,309.50H1034.00M1030.50,306.00V313.00M1027.30,306.30L1033.70,312.70M1027.30,312.70L1033.70,306.30" stroke="#000" stroke-width="1" fill="none"/>
<line x1="1049.50" y1="282.50" x2="1049.50" y2="349.50"/>
<line x1="1045.40" y1="282.50" x2="1053.60" y2="282.50"/>
<line x1="1045.40" y1="349.50" x2="1053.60" y2="349.50"/>
<path d="M1046.00,315.50H1053.00M1049.50,312.00V319.00M1046.30,312.30L1052.70,318.70M1046.30,318.70L1052.70,312.30" stroke="#000" stroke-width="1" fill="none"/>
<line x1="1068.50" y1="285.50" x2="1068.50" y2="338.50"/>
<line x1="1064.40" y1="285.50" x2="1072.60" y2="285.50"/>
<line x1="1064.40" y1="338.50" x2="1072.60" y2="338.50"/>
<path d="M1065.00,312.50H1072.00M1068.50,309.00V316.00M1065.30,309.30L1071.70,315.70M1065.30,315.70L1071.70,309.30" stroke="#000" stroke-width="1" fill="none"/>
<line x1="1087.50" y1="222.50" x2="1087.50" y2="284.50"/>
<line x1="1083.40" y1="222.50" x2="1091.60" y2="222.50"/>
<line x1="1083.40" y1="284.50" x2="1091.60" y2="284.50"/>
<path d="M1084.00,253.50H1091.00M1087.50,250.00V257.00M1084.30,250.30L1090.70,256.70M1084.30,256.70L1090.70,250.30" stroke="#000" stroke-width="1" fill="none"/>
<line x1="1105.50" y1="230.50" x2="1105.50" y2="273.50"/>
<line x1="1101.40" y1="230.50" x2="1109.60" y2="230.50"/>
<line x1="1101.40" y1="273.50" x2="1109.60" y2="273.50"/>
<path d="M1102.00,251.50H1109.00M1105.50,248.00V255.00M1102.30,248.30L1108.70,254.70M1102.30,254.70L1108.70,248.30" stroke="#000" stroke-width="1" fill="none"/>
<line x1="1124.50" y1="176.50" x2="1124.50" y2="238.50"/>
<line x1="1120.40" y1="176.50" x2="1128.60" y2="176.50"/>
<line x1="1120.40" y1="238.50" x2="1128.60" y2="238.50"/>
<path d="M1121.00,207.50H1128.00M1124.50,204.00V211.00M1121.30,204.30L1127.70,210.70M1121.30,210.70L1127.70,204.30" stroke="#000" stroke-width="1" fill="none"/>
</g>
<rect x="74.5" y="56.5" width="1088.0" height="603.0" fill="none" stroke="#000" stroke-width="1"/>
<text x="1362.3" y="71.50" text-anchor="end">FF gem +/- stdev</text>
<text x="1362.3" y="90.00" text-anchor="end">FF min</text>
<text x="1362.3" y="108.70" text-anchor="end">FF max</text>
<text x="1362.3" y="127.00" text-anchor="end">GUST gem +/- stdev</text>
<text x="1362.3" y="145.50" text-anchor="end">GUST min</text>
<text x="1362.3" y="164.20" text-anchor="end">GUST max</text>
<g class="eb"><line x1="1372.5" y1="65.5" x2="1419.5" y2="65.5"/><line x1="1372.5" y1="61.4" x2="1372.5" y2="69.6"/><line x1="1419.5" y1="61.4" x2="1419.5" y2="69.6"/><circle cx="1395.50" cy="65.50" r="3" fill="#fff" stroke="#000" stroke-width="1"/></g>
<line x1="1372.5" y1="84.5" x2="1419.5" y2="84.5" stroke="#000" stroke-width="1" stroke-dasharray="0.65 3.75"/>
<line x1="1372.5" y1="102.5" x2="1419.5" y2="102.5" stroke="#000" stroke-width="1" stroke-dasharray="0.65 3.75"/>
<g class="eb"><line x1="1372.5" y1="121.5" x2="1419.5" y2="121.5"/><line x1="1372.5" y1="117.4" x2="1372.5" y2="125.6"/><line x1="1419.5" y1="117.4" x2="1419.5" y2="125.6"/><path d="M1392.00,121.50H1399.00M1395.50,118.00V125.00M1392.30,118.30L1398.70,124.70M1392.30,124.70L1398.70,118.30" stroke="#000" stroke-width="1" fill="none"/></g>
<line x1="1372.5" y1="140.5" x2="1419.5" y2="140.5" stroke="#000" stroke-width="2.4" stroke-dasharray="0.75 8.1"/>
<line x1="1372.5" y1="158.5" x2="1419.5" y2="158.5" stroke="#000" stroke-width="1" stroke-dasharray="0.7 4.6"/>
</svg></body></html>
